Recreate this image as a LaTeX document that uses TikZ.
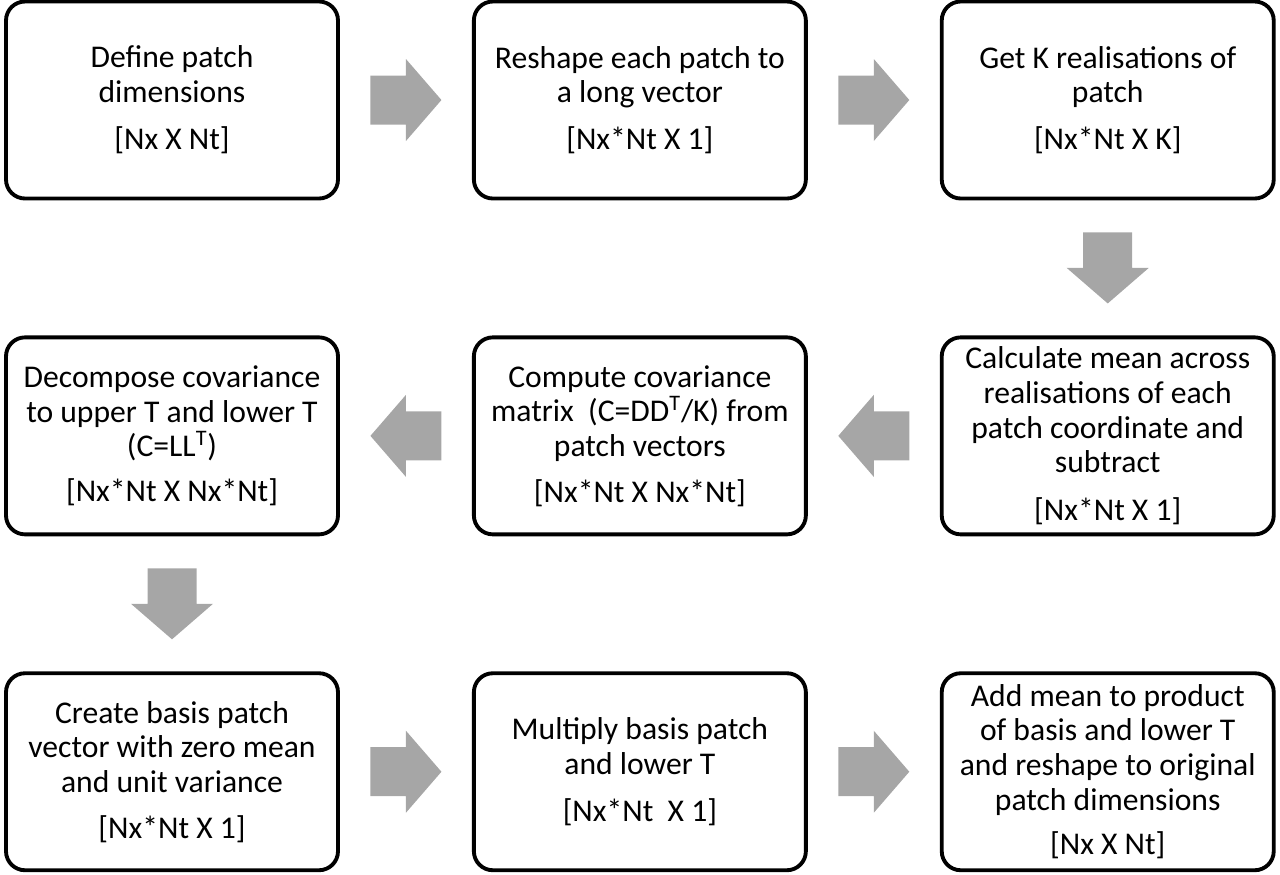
\documentclass[tikz,border=0pt]{standalone}
\usepackage{fontspec}
\setmainfont{Carlito}
\usepackage{xcolor}
\usetikzlibrary{positioning,calc}
\definecolor{arrowgray}{HTML}{A6A6A6}

\begin{document}
\begin{tikzpicture}[
  x=1cm,
  y=1cm,
  stepbox/.style={draw=black, line width=2.2pt, rounded corners=0.38cm, fill=white,
    minimum width=6.64cm, minimum height=3.94cm, align=center, inner sep=2pt},
  blockarrow/.pic={\fill[arrowgray] (-0.71,-0.49) -- (0,-0.49) -- (0,-0.82) -- (0.71,0)
    -- (0,0.82) -- (0,0.49) -- (-0.71,0.49) -- cycle;},
  every node/.style={font=\fontsize{18}{19.7}\selectfont}
]
\useasboundingbox (0,0) rectangle (25.6,-17.48);

% first row
\node[stepbox] (define) at (3.44,-2.0) {Define patch\\dimensions\\[0.26cm][Nx X Nt]};
\node[stepbox, right=2.64cm of define] (reshape) {Reshape each patch to\\a long vector\\[0.24cm][Nx*Nt X 1]};
\node[stepbox, right=2.64cm of reshape] (realise) {Get K realisations of\\patch\\[0.24cm][Nx*Nt X K]};

% second row
\node[stepbox, below=2.7cm of realise] (meanrm) {Calculate mean across\\realisations of each\\patch coordinate and\\subtract\\[0.26cm][Nx*Nt X 1]};
\node[stepbox, left=2.64cm of meanrm] (covar) {Compute covariance\\matrix\ \ (C=DD\textsuperscript{T}/K) from\\patch vectors\\[0.22cm][Nx*Nt X Nx*Nt]};
\node[stepbox, left=2.64cm of covar] (decomp) {Decompose covariance\\to upper T and lower T\\(C=LL\textsuperscript{T})\\[0.2cm][Nx*Nt X Nx*Nt]};

% third row
\node[stepbox, below=2.7cm of decomp] (basis) {Create basis patch\\vector with zero mean\\and unit variance\\[0.22cm][Nx*Nt X 1]};
\node[stepbox, right=2.64cm of basis] (multiply) {Multiply basis patch\\and lower T\\[0.26cm][Nx*Nt\ \ X 1]};
\node[stepbox, right=2.64cm of multiply] (addmean) {Add mean to product\\of basis and lower T\\and reshape to original\\patch dimensions\\[0.2cm][Nx X Nt]};

% block arrows between the steps
\pic at ($(define.east)!0.5!(reshape.west)$) {blockarrow};
\pic at ($(reshape.east)!0.5!(realise.west)$) {blockarrow};
\pic[rotate=-90] at ($(realise.south)!0.5!(meanrm.north)$) {blockarrow};
\pic[rotate=180] at ($(meanrm.west)!0.5!(covar.east)$) {blockarrow};
\pic[rotate=180] at ($(covar.west)!0.5!(decomp.east)$) {blockarrow};
\pic[rotate=-90] at ($(decomp.south)!0.5!(basis.north)$) {blockarrow};
\pic at ($(basis.east)!0.5!(multiply.west)$) {blockarrow};
\pic at ($(multiply.east)!0.5!(addmean.west)$) {blockarrow};
\end{tikzpicture}
\end{document}
